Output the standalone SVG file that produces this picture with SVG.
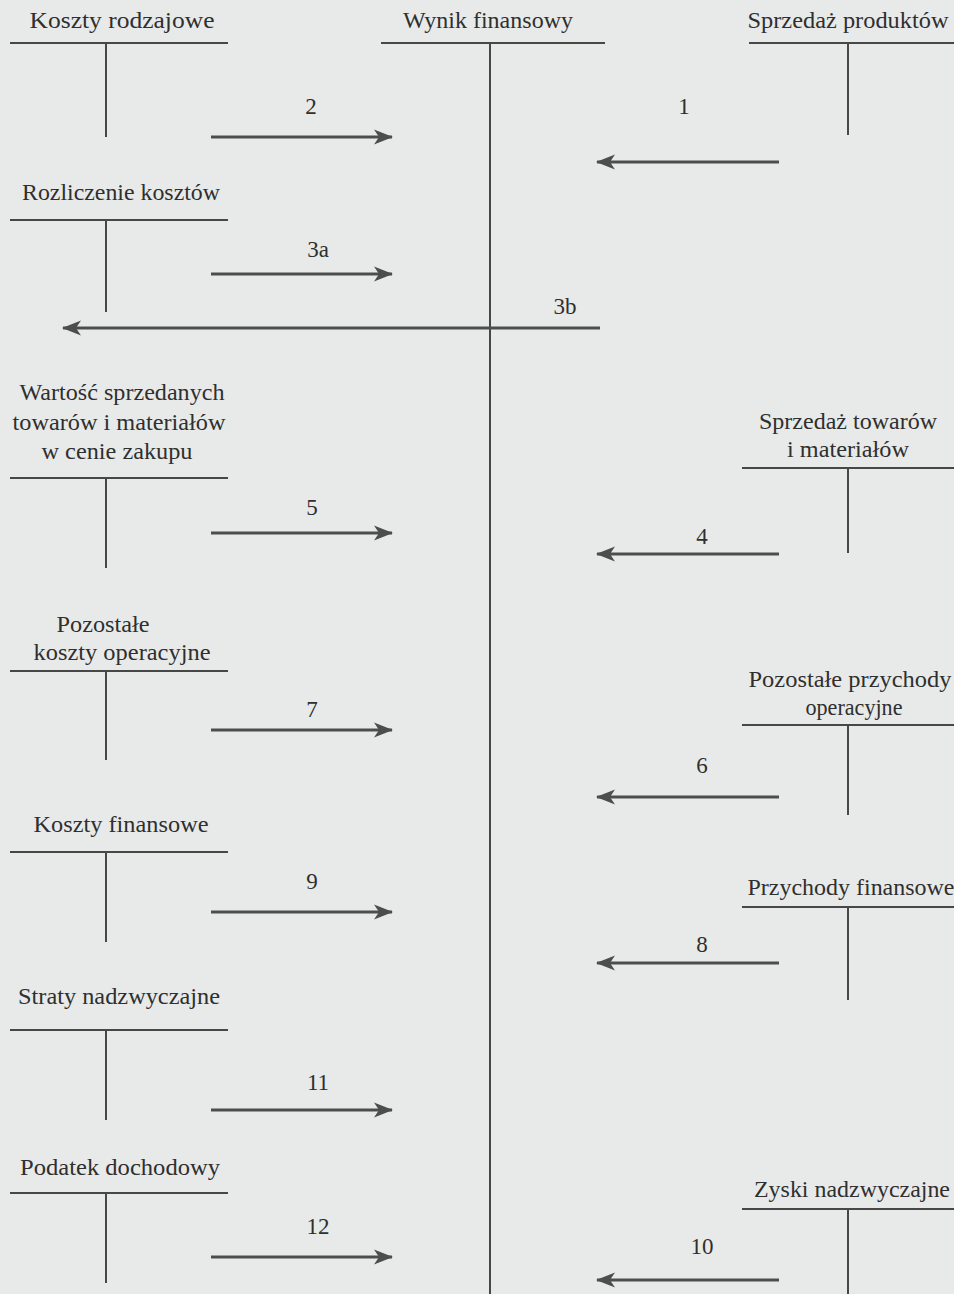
<svg xmlns="http://www.w3.org/2000/svg" width="954" height="1294" viewBox="0 0 954 1294">
<style>
text{font-family:"Liberation Serif","Times New Roman",serif;font-size:23px;fill:#2f2f2f;text-anchor:middle}
.t{stroke:#474747;stroke-width:2;fill:none}
.a{stroke:#4d4d4d;stroke-width:3;fill:none;marker-end:url(#ah)}
</style>
<defs>
<marker id="ah" markerUnits="userSpaceOnUse" markerWidth="22" markerHeight="18" viewBox="-20 -9 22 18" refX="0" refY="0" orient="auto">
<path d="M1,0 L-18,-7.5 L-13,0 L-18,7.5 Z" fill="#4d4d4d"/>
</marker>
</defs>
<rect width="954" height="1294" fill="#e8eaea"/>

<g id="koszty-rodzajowe"><path class="t" d="M10,43H228M106,43V137"/><text x="122" y="28" textLength="185" lengthAdjust="spacingAndGlyphs">Koszty rodzajowe</text></g>
<g id="rozliczenie-kosztow"><path class="t" d="M10,220H228M106,220V312"/><text x="121" y="200" textLength="198" lengthAdjust="spacingAndGlyphs">Rozliczenie kosztów</text></g>
<g id="wartosc-sprzedanych"><path class="t" d="M10,478H228M106,478V568"/><text x="122" y="400" textLength="205" lengthAdjust="spacingAndGlyphs">Wartość sprzedanych</text><text x="119" y="430" textLength="213" lengthAdjust="spacingAndGlyphs">towarów i materiałów</text><text x="117" y="459" textLength="151" lengthAdjust="spacingAndGlyphs">w cenie zakupu</text></g>
<g id="pozostale-koszty"><path class="t" d="M10,671H228M106,671V760"/><text x="103" y="632" textLength="93" lengthAdjust="spacingAndGlyphs">Pozostałe</text><text x="122" y="660" textLength="177" lengthAdjust="spacingAndGlyphs">koszty operacyjne</text></g>
<g id="koszty-finansowe"><path class="t" d="M10,852H228M106,852V942"/><text x="121" y="832" textLength="175" lengthAdjust="spacingAndGlyphs">Koszty finansowe</text></g>
<g id="straty-nadzwyczajne"><path class="t" d="M10,1030H228M106,1030V1120"/><text x="119" y="1004" textLength="202" lengthAdjust="spacingAndGlyphs">Straty nadzwyczajne</text></g>
<g id="podatek-dochodowy"><path class="t" d="M10,1193H228M106,1193V1283"/><text x="120" y="1175" textLength="200" lengthAdjust="spacingAndGlyphs">Podatek dochodowy</text></g>

<g id="wynik-finansowy"><path class="t" d="M381,43H605M490,43V1294"/><text x="488" y="28" textLength="170" lengthAdjust="spacingAndGlyphs">Wynik finansowy</text></g>

<g id="sprzedaz-produktow"><path class="t" d="M749,43H954M848,43V135"/><text x="848" y="28" textLength="201" lengthAdjust="spacingAndGlyphs">Sprzedaż produktów</text></g>
<g id="sprzedaz-towarow"><path class="t" d="M742,468H954M848,468V553"/><text x="848" y="429" textLength="178" lengthAdjust="spacingAndGlyphs">Sprzedaż towarów</text><text x="848" y="457" textLength="122" lengthAdjust="spacingAndGlyphs">i materiałów</text></g>
<g id="pozostale-przychody"><path class="t" d="M742,725H954M848,725V815"/><text x="850" y="687" textLength="203" lengthAdjust="spacingAndGlyphs">Pozostałe przychody</text><text x="854" y="715" textLength="97" lengthAdjust="spacingAndGlyphs">operacyjne</text></g>
<g id="przychody-finansowe"><path class="t" d="M742,907H954M848,907V1000"/><text x="851" y="895" textLength="207" lengthAdjust="spacingAndGlyphs">Przychody finansowe</text></g>
<g id="zyski-nadzwyczajne"><path class="t" d="M742,1209H954M848,1209V1294"/><text x="852" y="1197" textLength="196" lengthAdjust="spacingAndGlyphs">Zyski nadzwyczajne</text></g>

<g id="connectors">
<path class="a" d="M211,137H392"/>
<path class="a" d="M211,274H392"/>
<path class="a" d="M211,533H392"/>
<path class="a" d="M211,730H392"/>
<path class="a" d="M211,912H392"/>
<path class="a" d="M211,1110H392"/>
<path class="a" d="M211,1257H392"/>
<path class="a" d="M779,162H597"/>
<path class="a" d="M779,554H597"/>
<path class="a" d="M779,797H597"/>
<path class="a" d="M779,963H597"/>
<path class="a" d="M779,1280H597"/>
<path class="a" d="M600,328H63"/>
<text x="311" y="114">2</text>
<text x="684" y="114">1</text>
<text x="318" y="257">3a</text>
<text x="565" y="314">3b</text>
<text x="312" y="515">5</text>
<text x="702" y="544">4</text>
<text x="312" y="717">7</text>
<text x="702" y="773">6</text>
<text x="312" y="889">9</text>
<text x="702" y="952">8</text>
<text x="318" y="1090">11</text>
<text x="318" y="1234">12</text>
<text x="702" y="1254">10</text>
</g>
</svg>
